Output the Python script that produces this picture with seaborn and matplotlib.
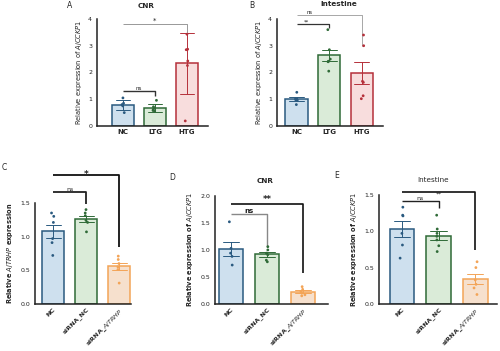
import numpy as np
import pandas as pd
import matplotlib
matplotlib.use("Agg")
import matplotlib.pyplot as plt
import seaborn as sns

sns.set_style("white")
plt.rcParams['font.family'] = ['DejaVu Sans']

# ---------------- data ----------------
groups_ab = ["NC", "LTG", "HTG"]
groups_cde = ["NC", "siRNA_NC", "siRNA_AjTRHP"]
tick_cde = ["NC", "siRNA_NC", r"siRNA_$\it{AjTRHP}$"]

a_nc = [1.05, 0.85, 0.80, 0.75, 0.50]
a_ltg = [0.96, 0.72, 0.66, 0.60, 0.55, 0.58]
a_htg = [3.43, 2.87, 2.85, 2.43, 2.26, 0.19]

b_nc = [1.26, 1.02, 1.00, 0.98, 0.97, 0.80]
b_ltg = [3.60, 2.85, 2.50, 2.42, 2.40, 2.05]
b_htg = [3.40, 3.00, 1.67, 1.63, 1.13, 1.02]

c_nc = [1.35, 1.30, 1.21, 0.97, 0.91, 0.72]
c_sinc = [1.40, 1.35, 1.31, 1.24, 1.21, 1.07]
c_sitr = [0.71, 0.66, 0.60, 0.55, 0.51, 0.31]

d_nc = [1.52, 1.03, 0.94, 0.88, 0.72]
d_sinc = [1.06, 1.00, 0.94, 0.91, 0.81, 0.78]
d_sitr = [0.32, 0.27, 0.23, 0.20, 0.17, 0.15]

e_nc = [1.33, 1.22, 1.21, 0.97, 0.81, 0.63]
e_sinc = [1.22, 1.03, 0.97, 0.93, 0.88, 0.80, 0.72]
e_sitr = [0.58, 0.50, 0.33, 0.27, 0.22, 0.13]

fill = {"blue": "#c9e1f3", "green": "#d8eed5", "red": "#fcd8d8", "orange": "#fde0c6"}
edge = {"blue": "#2a5a80", "green": "#2f6a37", "red": "#b5303a", "orange": "#f3a457"}
cols_ab = ["blue", "green", "red"]
cols_cde = ["blue", "green", "orange"]


def long_df(groups, arrays):
    rows = []
    for g, arr in zip(groups, arrays):
        for v in arr:
            rows.append((g, v))
    return pd.DataFrame(rows, columns=["group", "value"])


fig = plt.figure(figsize=(5.0, 3.51), dpi=100)
np.random.seed(3)


def px(x, y):
    return x / 500.0, 1 - y / 351.0


def panel(rect, groups, arrays, colkeys, err, ylim, yticks, yfmt, xlim, bar_w):
    ax = fig.add_axes(rect)
    df = long_df(groups, arrays)
    pal_fill = {g: fill[c] for g, c in zip(groups, colkeys)}
    pal_edge = {g: edge[c] for g, c in zip(groups, colkeys)}
    sns.barplot(data=df, x="group", y="value", hue="group", order=groups,
                hue_order=groups, palette=pal_fill, errorbar=err, capsize=0.45,
                width=bar_w, err_kws={"linewidth": 0.7}, legend=False, ax=ax,
                dodge=False)
    for p, g in zip(ax.patches, groups):
        p.set_edgecolor(pal_edge[g])
        p.set_linewidth(1.1)
    for ln, g in zip(ax.lines, groups):
        ln.set_color(pal_edge[g])
    sns.stripplot(data=df, x="group", y="value", hue="group", order=groups,
                  hue_order=groups, palette=pal_edge, size=2.0, jitter=0.06,
                  legend=False, ax=ax, zorder=5)
    ax.set_ylim(*ylim)
    ax.set_xlim(*xlim)
    ax.set_yticks(yticks)
    ax.set_yticklabels([yfmt.format(t) for t in yticks], fontsize=4.5)
    ax.set_xlabel("")
    sns.despine(ax=ax)
    for s in ["left", "bottom"]:
        ax.spines[s].set_linewidth(1.1)
        ax.spines[s].set_color("#222222")
    ax.tick_params(axis="y", length=2, width=0.8, pad=1.5, colors="#222222")
    ax.tick_params(axis="x", length=0, pad=2)
    return ax


def bracket(ax, x1, x2, y, ydrop, text, color, lw, fs, tdy=0.0, weight="normal",
            tx=None):
    ax.plot([x1, x2, x2], [y, y, ydrop], color=color, lw=lw, clip_on=False,
            solid_capstyle="butt")
    if tx is None:
        tx = (x1 + x2) / 2
    ax.text(tx, y + tdy, text, ha="center", va="bottom",
            fontsize=fs, color="#222222", fontweight=weight)


def title(x, y, s, bold=True):
    fig.text(*px(x, y), s, fontsize=5.2, ha="center", va="center",
             fontweight="bold" if bold else "normal")


def letter(x, y, s):
    fig.text(*px(x, y), s, fontsize=5.5, ha="center", va="center")


# ---------------- A ----------------
axA = panel([0.194, 0.641, 0.222, 0.305], groups_ab, [a_nc, a_ltg, a_htg], cols_ab,
            "sd", (0, 4), [0, 1, 2, 3, 4], "{:g}", (-0.8, 2.65), 0.68)
axA.set_xticks([0, 1, 2])
axA.set_xticklabels(groups_ab, fontsize=5, fontweight="bold")
axA.set_ylabel(r"Relative expression of $\it{AjCCKP1}$", fontsize=4.8, labelpad=3)
title(146, 6, "CNR")
bracket(axA, 0, 2, 3.81, 3.45, "*", "#888888", 0.6, 5)
bracket(axA, 0, 1, 1.32, 1.13, "ns", "#333333", 1.0, 4)
letter(70, 5, "A")

# ---------------- B ----------------
axB = panel([0.554, 0.641, 0.212, 0.305], groups_ab, [b_nc, b_ltg, b_htg], cols_ab,
            "se", (0, 4), [0, 1, 2, 3, 4], "{:g}", (-0.6, 2.65), 0.68)
axB.set_xticks([0, 1, 2])
axB.set_xticklabels(groups_ab, fontsize=5, fontweight="bold")
axB.set_ylabel(r"Relative expression of $\it{AjCCKP1}$", fontsize=4.8, labelpad=3)
title(339, 4, "Intestine")
bracket(axB, 0, 2, 4.15, 3.0, "ns", "#999999", 0.6, 3.8, tx=0.4, tdy=-0.02)
bracket(axB, 0, 1, 3.8, 3.65, "**", "#333333", 0.9, 3.8, tx=0.3, tdy=-0.02)
letter(252, 5, "B")

# ---------------- C ----------------
axC = panel([0.070, 0.134, 0.192, 0.288], groups_cde, [c_nc, c_sinc, c_sitr], cols_cde,
            "se", (0, 1.5), [0, 0.5, 1.0, 1.5], "{:.1f}", (-0.55, 2.36), 0.68)
axC.set_xticks([0, 1, 2])
axC.set_xticklabels(tick_cde, fontsize=4.6, rotation=45, ha="right",
                    rotation_mode="anchor", fontweight="bold")
axC.set_ylabel(r"Relative $\it{AjTRHP}$ expression", fontsize=4.8, labelpad=4,
               fontweight="bold")
bracket(axC, 0, 2, 1.92, 0.84, "*", "#111111", 1.3, 6.5, tdy=-0.06, weight="bold")
bracket(axC, 0, 1, 1.66, 1.48, "ns", "#222222", 1.3, 4.5)
letter(4, 167, "C")

# ---------------- D ----------------
axD = panel([0.430, 0.134, 0.226, 0.308], groups_cde, [d_nc, d_sinc, d_sitr], cols_cde,
            "se", (0, 2.0), [0, 0.5, 1.0, 1.5, 2.0], "{:.1f}", (-0.45, 2.7), 0.68)
axD.set_xticks([0, 1, 2])
axD.set_xticklabels(tick_cde, fontsize=4.6, rotation=45, ha="right",
                    rotation_mode="anchor", fontweight="bold")
axD.set_ylabel(r"Relative expression of $\it{AjCCKP1}$", fontsize=4.8, labelpad=4,
               fontweight="bold")
title(265, 181, "CNR")
bracket(axD, 0, 2, 1.85, 0.57, "**", "#111111", 1.2, 6, weight="bold")
bracket(axD, 0, 1, 1.66, 1.06, "ns", "#888888", 1.0, 5, weight="bold")
letter(172, 177, "D")

# ---------------- E ----------------
axE = panel([0.758, 0.134, 0.236, 0.311], groups_cde, [e_nc, e_sinc, e_sitr], cols_cde,
            "se", (0, 1.5), [0, 0.5, 1.0, 1.5], "{:.1f}", (-0.63, 2.6), 0.68)
axE.set_xticks([0, 1, 2])
axE.set_xticklabels(tick_cde, fontsize=4.6, rotation=45, ha="right",
                    rotation_mode="anchor", fontweight="bold")
axE.set_ylabel(r"Relative expression of $\it{AjCCKP1}$", fontsize=4.8, labelpad=4,
               fontweight="bold")
title(433, 180, "Intestine", bold=False)
bracket(axE, 0, 2, 1.54, 0.74, "**", "#111111", 1.2, 4.5, tdy=-0.06)
bracket(axE, 0, 1, 1.42, 1.32, "ns", "#222222", 1.0, 4.5)
letter(337, 175, "E")

fig.savefig("out.png", dpi=100)
